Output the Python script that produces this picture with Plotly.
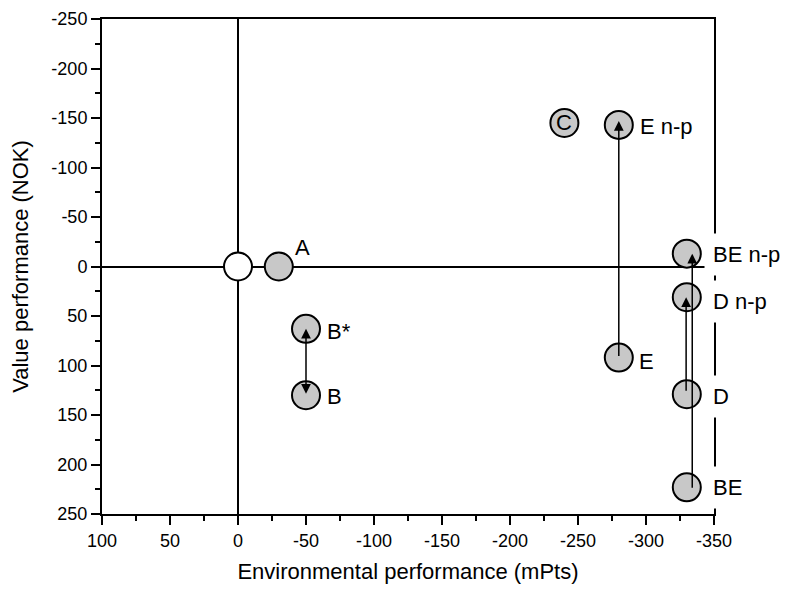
import plotly.graph_objects as go

# ---- data ----
names = ["origin", "A", "B*", "B", "C", "E n-p", "E", "BE n-p", "D n-p", "D", "BE"]
env_perf = [0, -30, -50, -50, -240, -280, -280, -330, -330, -330, -330]
value_perf = [0, 0, 63, 130, -145, -143, 92, -13, 31, 129, 223]
fill_colors = ["white"] + ["#c8c8c8"] * 10

# arrows: (tail_x, tail_y, head_x, head_y, both_ends)
arrow_tail_x = [-50, -280, -329.5, -334]
arrow_tail_y = [130, 92, 127, 225]
arrow_head_x = [-50, -280, -329.5, -334]
arrow_head_y = [63, -147, 31, -13]
arrow_both = [True, False, False, False]

x_tick_vals = [100, 50, 0, -50, -100, -150, -200, -250, -300, -350]
x_tick_text = ["100", "50", "0", "-50", "-100", "-150", "-200", "-250", "-300", "-350"]
y_tick_vals = [-250, -200, -150, -100, -50, 0, 50, 100, 150, 200, 250]
y_tick_text = ["-250", "-200", "-150", "-100", "-50", "0", "50", "100", "150", "200", "250"]

FONT = "Liberation Sans, Arial, sans-serif"

fig = go.Figure()
fig.add_trace(go.Scatter(
    x=env_perf, y=value_perf, mode="markers",
    marker=dict(size=28, color=fill_colors, line=dict(color="black", width=2)),
    hoverinfo="text", hovertext=names, showlegend=False,
))

# arrows
for tx, ty, hx, hy, both in zip(arrow_tail_x, arrow_tail_y, arrow_head_x, arrow_head_y, arrow_both):
    fig.add_annotation(
        x=hx, y=hy, ax=tx, ay=ty, xref="x", yref="y", axref="x", ayref="y",
        text="", showarrow=True, arrowhead=2, arrowsize=1.3, arrowwidth=1.5,
        arrowcolor="black", arrowside="end+start" if both else "end",
        startarrowhead=2, startarrowsize=1.3,
    )

# labels: name -> (xshift, yshift, mode)
label_cfg = {
    "A": (14, 19, "plain"),
    "B*": (19, -3, "plain"),
    "B": (19, -1, "plain"),
    "C": (0, 0, "center"),
    "E n-p": (19, -2, "plain"),
    "E": (18, -4, "plain"),
    "BE n-p": (17, -1, "box"),
    "D n-p": (17, -4, "box"),
    "D": (17, -2, "box"),
    "BE": (17, 0, "box"),
}
for n, x, y in zip(names, env_perf, value_perf):
    if n not in label_cfg:
        continue
    xs, ys, mode = label_cfg[n]
    kw = dict(x=x, y=y, xref="x", yref="y", text=n, showarrow=False,
              font=dict(family=FONT, size=22, color="black"),
              xshift=xs, yshift=ys, yanchor="middle")
    if mode == "center":
        kw.update(xanchor="center")
    elif mode == "box":
        kw.update(xanchor="left", bgcolor="white", borderpad=8)
    else:
        kw.update(xanchor="left")
    fig.add_annotation(**kw)

axis_common = dict(
    ticks="outside", ticklen=9, tickwidth=1.5, tickcolor="black",
    showline=True, linewidth=2, linecolor="black", mirror=True,
    showgrid=False, zeroline=True, zerolinecolor="black", zerolinewidth=1.5,
    tickfont=dict(family=FONT, size=18, color="black"), automargin=False,
)
fig.update_xaxes(
    range=[100, -350], tickmode="array", tickvals=x_tick_vals, ticktext=x_tick_text,
    minor=dict(tickmode="linear", tick0=25, dtick=50, ticks="outside", ticklen=5,
               tickwidth=1.5, tickcolor="black", showgrid=False),
    title=dict(text="Environmental performance (mPts)", font=dict(family=FONT, size=22, color="black"), standoff=14),
    **axis_common,
)
fig.update_yaxes(
    range=[250, -250], tickmode="array", tickvals=y_tick_vals, ticktext=y_tick_text,
    minor=dict(tickmode="linear", tick0=25, dtick=50, ticks="outside", ticklen=5,
               tickwidth=1.5, tickcolor="black", showgrid=False),
    title=dict(text="Value performance (NOK)", font=dict(family=FONT, size=22, color="black"), standoff=19),
    **axis_common,
)
fig.update_layout(
    width=781, height=581,
    margin=dict(l=94, r=75, t=11, b=75),
    plot_bgcolor="white", paper_bgcolor="white",
    font=dict(family=FONT, color="black"),
)
fig.write_html("out.html")
